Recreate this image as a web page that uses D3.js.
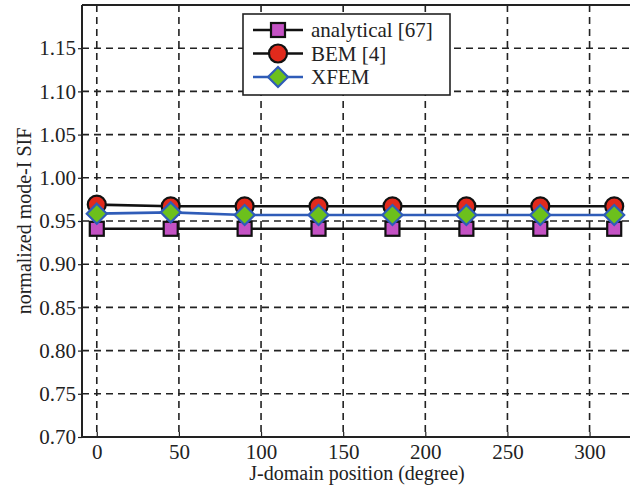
<!DOCTYPE html>
<html>
<head>
<meta charset="utf-8">
<script src="https://cdn.jsdelivr.net/npm/d3@7"></script>
<style>
  body { margin: 0; background: #fff; }
</style>
</head>
<body>
<svg id="Canvas" width="630" height="490"></svg>
<script>
// data
var positions = [0, 45, 90, 135, 180, 225, 270, 315];
var analytical = [0.941, 0.941, 0.941, 0.941, 0.941, 0.941, 0.941, 0.941];
var bem = [0.969, 0.967, 0.967, 0.967, 0.967, 0.967, 0.967, 0.967];
var xfem = [0.9585, 0.960, 0.957, 0.957, 0.957, 0.957, 0.957, 0.957];
var xTicks = [0, 50, 100, 150, 200, 250, 300];
var yTicks = [0.70, 0.75, 0.80, 0.85, 0.90, 0.95, 1.00, 1.05, 1.10, 1.15];
var legendLabels = ["analytical [67]", "BEM [4]", "XFEM"];

var serif = "'Liberation Serif', 'Times New Roman', 'DejaVu Serif', serif";
var svg = d3.select("#Canvas");
var plotLeft = 82, plotTop = 5, plotRight = 640, plotBottom = 437;

var x = d3.scaleLinear().domain([-9, 330.7]).range([plotLeft, plotRight]);
var y = d3.scaleLinear().domain([0.70, 1.20]).range([plotBottom, plotTop]);

// grid
var grid = svg.append("g");
grid.selectAll("line.v").data(xTicks).enter().append("line")
  .attr("x1", d => x(d)).attr("x2", d => x(d))
  .attr("y1", plotTop).attr("y2", plotBottom)
  .style("stroke", "#222").style("stroke-width", 1.6)
  .style("stroke-dasharray", "7,5");
grid.selectAll("line.h").data(yTicks).enter().append("line")
  .attr("x1", plotLeft).attr("x2", 630)
  .attr("y1", d => y(d)).attr("y2", d => y(d))
  .style("stroke", "#222").style("stroke-width", 1.6)
  .style("stroke-dasharray", "7,5");

// axes
var xAxis = svg.append("g")
  .attr("transform", "translate(0," + plotBottom + ")")
  .call(d3.axisBottom(x).tickValues(xTicks).tickSize(-5).tickPadding(7).tickFormat(d3.format("d")));
var yAxis = svg.append("g")
  .attr("transform", "translate(" + plotLeft + ",0)")
  .call(d3.axisLeft(y).tickValues(yTicks).tickSize(4).tickPadding(2).tickFormat(d3.format(".2f")));

[xAxis, yAxis].forEach(function (a) {
  a.attr("font-family", null).attr("font-size", null);
  a.select(".domain").remove();
  a.selectAll(".tick line").style("stroke", "#222").style("stroke-width", 1.2);
  a.selectAll(".tick text").style("font-family", serif).style("font-size", "21px").style("fill", "#222");
});

// frame
svg.append("line").attr("x1", plotLeft).attr("x2", plotLeft).attr("y1", plotTop).attr("y2", plotBottom)
  .style("stroke", "#222").style("stroke-width", 2);
svg.append("line").attr("x1", plotLeft).attr("x2", 630).attr("y1", plotTop).attr("y2", plotTop)
  .style("stroke", "#222").style("stroke-width", 2);
svg.append("line").attr("x1", plotLeft).attr("x2", 630).attr("y1", plotBottom).attr("y2", plotBottom)
  .style("stroke", "#222").style("stroke-width", 2);

// labels
svg.append("text")
  .attr("x", 357).attr("y", 480)
  .attr("text-anchor", "middle")
  .style("font-family", serif).style("font-size", "20px").style("fill", "#222")
  .text("J-domain position (degree)");
svg.append("text")
  .attr("transform", "translate(31,221) rotate(-90)")
  .attr("text-anchor", "middle")
  .style("font-family", serif).style("font-size", "20px").style("fill", "#222")
  .text("normalized mode-I SIF");

var series = [
  { values: analytical, line: "#111", shape: "square", fill: "#c452c4", edge: "#111" },
  { values: bem, line: "#111", shape: "circle", fill: "#e12a1c", edge: "#111" },
  { values: xfem, line: "#2f5cb8", shape: "diamond", fill: "#6cc01c", edge: "#2f5cb8" }
];

function marker(g, s, cx, cy) {
  if (s.shape === "square") {
    g.append("rect").attr("x", cx - 7).attr("y", cy - 7).attr("width", 14).attr("height", 14)
      .style("fill", s.fill).style("stroke", s.edge).style("stroke-width", 2.2);
  } else if (s.shape === "circle") {
    g.append("circle").attr("cx", cx).attr("cy", cy).attr("r", 9)
      .style("fill", s.fill).style("stroke", s.edge).style("stroke-width", 2.2);
  } else {
    g.append("path")
      .attr("d", "M" + cx + "," + (cy - 10) + "L" + (cx + 10) + "," + cy + "L" + cx + "," + (cy + 10) + "L" + (cx - 10) + "," + cy + "Z")
      .style("fill", s.fill).style("stroke", s.edge).style("stroke-width", 2.2);
  }
}

var line = d3.line().x(d => x(d[0])).y(d => y(d[1]));
var plot = svg.append("g");
series.forEach(function (s) {
  var pts = positions.map((p, i) => [p, s.values[i]]);
  plot.append("path").attr("d", line(pts))
    .style("fill", "none").style("stroke", s.line).style("stroke-width", 2.6);
});
series.forEach(function (s) {
  positions.forEach(function (p, i) {
    marker(plot, s, x(p), y(s.values[i]));
  });
});

// legend
var lg = svg.append("g");
lg.append("rect").attr("x", 243).attr("y", 14).attr("width", 207).attr("height", 81)
  .style("fill", "#fff").style("stroke", "#222").style("stroke-width", 1.6);
series.forEach(function (s, i) {
  var ly = 30 + i * 23.5;
  lg.append("line").attr("x1", 253).attr("x2", 303).attr("y1", ly).attr("y2", ly)
    .style("stroke", s.line).style("stroke-width", 2.6);
  marker(lg, s, 278, ly);
  lg.append("text").attr("x", 311).attr("y", ly + 7)
    .style("font-family", serif).style("font-size", "21px").style("fill", "#222")
    .text(legendLabels[i]);
});
</script>
</body>
</html>
